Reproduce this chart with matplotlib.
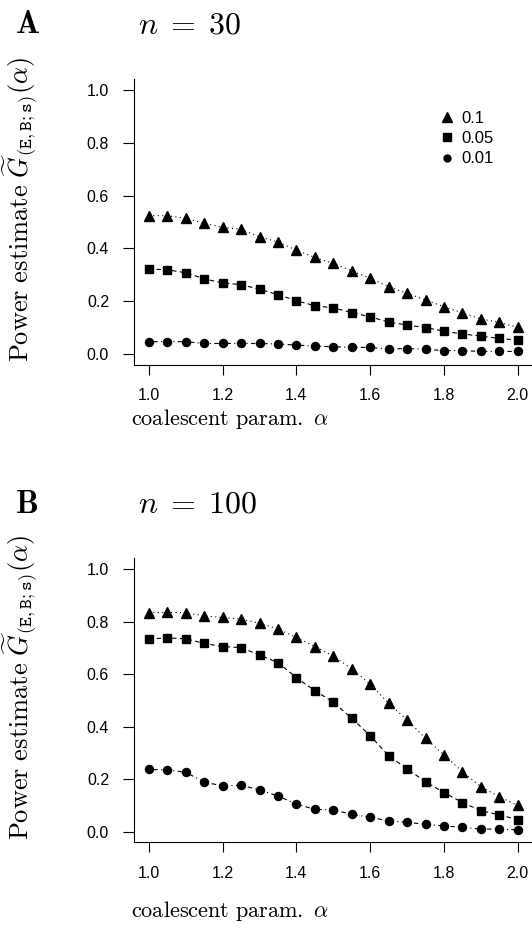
import matplotlib
matplotlib.use("Agg")
import matplotlib.pyplot as plt
import numpy as np

plt.rcParams['mathtext.fontset'] = 'cm'
plt.rcParams['font.family'] = ['Liberation Sans', 'DejaVu Sans']

alpha = [1.0, 1.05, 1.1, 1.15, 1.2, 1.25, 1.3, 1.35, 1.4, 1.45, 1.5,
         1.55, 1.6, 1.65, 1.7, 1.75, 1.8, 1.85, 1.9, 1.95, 2.0]
levels = ['0.1', '0.05', '0.01']

# panel A, n = 30
a_01 = [0.524, 0.524, 0.514, 0.495, 0.480, 0.472, 0.444, 0.424, 0.393, 0.366, 0.343,
        0.315, 0.287, 0.255, 0.230, 0.205, 0.179, 0.156, 0.133, 0.120, 0.101]
a_005 = [0.322, 0.319, 0.308, 0.285, 0.269, 0.263, 0.245, 0.225, 0.202, 0.183, 0.175,
         0.157, 0.141, 0.121, 0.110, 0.100, 0.087, 0.076, 0.068, 0.059, 0.053]
a_001 = [0.047, 0.047, 0.047, 0.040, 0.040, 0.040, 0.040, 0.038, 0.034, 0.030, 0.028,
         0.025, 0.025, 0.019, 0.021, 0.018, 0.013, 0.013, 0.010, 0.010, 0.010]

# panel B, n = 100
b_01 = [0.834, 0.835, 0.834, 0.822, 0.816, 0.809, 0.794, 0.772, 0.740, 0.705, 0.670,
        0.620, 0.563, 0.489, 0.426, 0.356, 0.293, 0.229, 0.172, 0.134, 0.101]
b_005 = [0.734, 0.738, 0.735, 0.717, 0.705, 0.701, 0.673, 0.644, 0.587, 0.537, 0.494,
         0.432, 0.366, 0.290, 0.240, 0.191, 0.150, 0.112, 0.081, 0.065, 0.047]
b_001 = [0.238, 0.236, 0.227, 0.190, 0.175, 0.178, 0.160, 0.137, 0.106, 0.086, 0.084,
         0.067, 0.056, 0.042, 0.037, 0.029, 0.023, 0.018, 0.011, 0.011, 0.008]

fig = plt.figure(figsize=(5.32, 9.33), dpi=100)

ylab = r'$\mathrm{Power\ estimate}\ \widetilde{G}_{(\mathtt{E,B;s})}(\alpha)$'
xlab = r'$\mathrm{coalescent\ param.}\ \alpha$'
dotdash = (0, (1, 3, 4, 3))

def panel(rect, s1, s2, s3, letter, title, legend, xlab_y):
    ax = fig.add_axes(rect)
    ax.plot(alpha, s1, color='k', lw=0.8, ls=(0, (1, 3)), marker='^', ms=7.5)
    ax.plot(alpha, s2, color='k', lw=0.8, ls=(0, (4, 3)), marker='s', ms=6.3)
    ax.plot(alpha, s3, color='k', lw=0.8, ls=dotdash, marker='o', ms=5.8)
    ax.set_xlim(0.96, 2.04)
    ax.set_ylim(-0.04, 1.04)
    ax.set_xticks([1.0, 1.2, 1.4, 1.6, 1.8, 2.0])
    ax.set_yticks([0.0, 0.2, 0.4, 0.6, 0.8, 1.0])
    ax.spines['top'].set_visible(False)
    ax.spines['right'].set_visible(False)
    ax.tick_params(axis='x', length=7, pad=10, labelsize=11.5)
    ax.tick_params(axis='y', length=8, pad=10, labelsize=11.5)
    ax.set_xlabel(xlab, fontsize=16)
    ax.xaxis.set_label_coords(0.24, xlab_y)
    ax.set_ylabel(ylab, fontsize=19)
    ax.yaxis.set_label_coords(-0.235, 0.545)
    ax.text(-0.298, 1.19, r'$\mathbf{%s}$' % letter, transform=ax.transAxes, fontsize=23, va='center')
    ax.text(0.01, 1.19, title, transform=ax.transAxes, fontsize=23, va='center')
    if legend:
        hs = [plt.Line2D([], [], ls='none', marker=m, color='k', ms=z)
              for m, z in (('^', 6.5), ('s', 5.5), ('o', 5))]
        ax.legend(hs, levels, loc='upper left', bbox_to_anchor=(0.765, 0.89), frameon=False,
                  fontsize=12, handletextpad=0.35, labelspacing=0.32, handlelength=1.0,
                  borderpad=0, borderaxespad=0)
    return ax

panel([0.252, 0.6092, 0.749, 0.3057], a_01, a_005, a_001, 'A', r'$n\;=\;30$', True, -0.15)
panel([0.252, 0.0970, 0.749, 0.3044], b_01, b_005, b_001, 'B', r'$n\;=\;100$', False, -0.2)

fig.savefig('out.png', dpi=100)
